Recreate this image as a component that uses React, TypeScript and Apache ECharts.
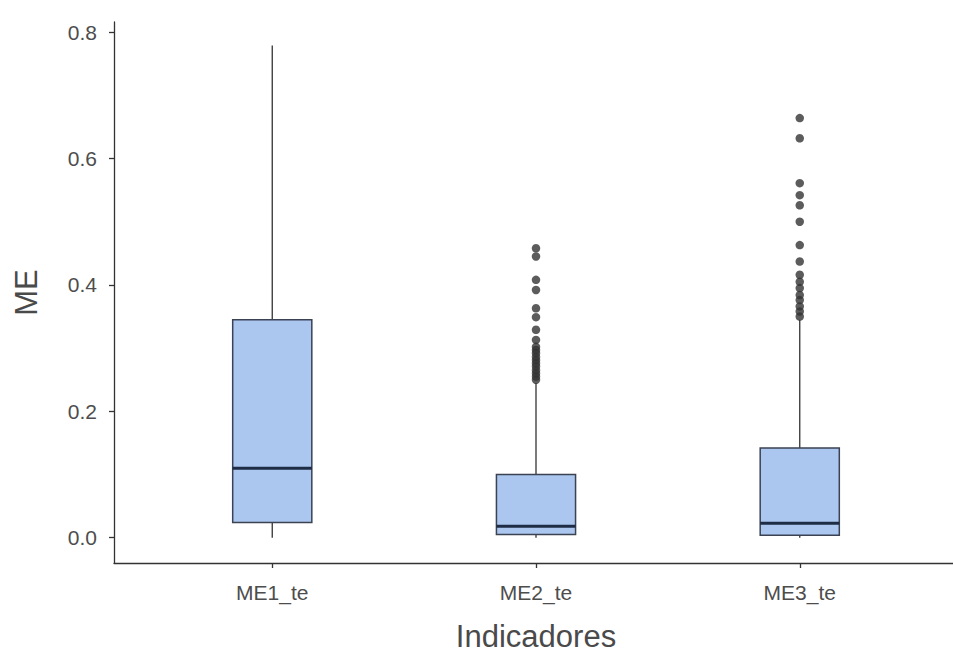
import React, { useEffect, useRef } from "react";
import * as echarts from "echarts";

const categories = ["ME1_te", "ME2_te", "ME3_te"];
const categoryPositions = [1, 2, 3];
const lowerWhisker = [0.0, 0.0, 0.0];
const q1 = [0.024, 0.005, 0.004];
const median = [0.11, 0.018, 0.023];
const q3 = [0.345, 0.1, 0.142];
const upperWhisker = [0.779, 0.245, 0.345];
const outliersME2 = [
  0.458, 0.445, 0.408, 0.392, 0.363, 0.349, 0.329, 0.313, 0.302, 0.297, 0.292,
  0.286, 0.281, 0.276, 0.271, 0.265, 0.26, 0.255, 0.25,
];
const outliersME3 = [
  0.664, 0.632, 0.561, 0.542, 0.526, 0.5, 0.463, 0.437, 0.416, 0.405, 0.395,
  0.384, 0.376, 0.366, 0.358, 0.35,
];
const yTicks = [0, 0.2, 0.4, 0.6, 0.8];

export default function App() {
  const ref = useRef<HTMLDivElement>(null);
  useEffect(() => {
    if (!ref.current) return;
    const chart = echarts.init(ref.current, null, { renderer: "svg" });
    const boxData = categoryPositions.map((x, i) => [
      x,
      lowerWhisker[i],
      q1[i],
      median[i],
      q3[i],
      upperWhisker[i],
    ]);
    const outlierData = [
      ...outliersME2.map((v) => [2, v]),
      ...outliersME3.map((v) => [3, v]),
    ];
    const font = "'Liberation Sans', Arial, sans-serif";
    const halfW = 0.15;
    chart.setOption({
      animation: false,
      backgroundColor: "#ffffff",
      grid: { left: 114, right: -5, top: 22, bottom: 90, outerBoundsMode: "none", containLabel: false },
      xAxis: {
        type: "value",
        min: 0.4,
        max: 3.6,
        name: "Indicadores",
        nameLocation: "middle",
        nameGap: 58,
        nameTextStyle: { fontFamily: font, fontSize: 31, color: "#4a4a4a" },
        axisLine: { show: true, onZero: false, lineStyle: { color: "#333333", width: 1.3 } },
        axisTick: { show: true, length: 5, customValues: categoryPositions, lineStyle: { color: "#333333", width: 1.3 } },
        axisLabel: {
          customValues: categoryPositions,
          formatter: (v: number) => categories[Math.round(v) - 1] ?? "",
          fontFamily: font,
          fontSize: 21,
          color: "#4d4d4d",
          margin: 19,
        },
        splitLine: { show: false },
      },
      yAxis: {
        type: "value",
        min: -0.04,
        max: 0.816,
        name: "ME",
        nameLocation: "middle",
        nameRotate: 90,
        nameGap: 72,
        nameTextStyle: { fontFamily: font, fontSize: 31, color: "#4a4a4a" },
        axisLine: { show: true, onZero: false, lineStyle: { color: "#333333", width: 1.3 } },
        axisTick: { show: true, length: 5, customValues: yTicks, lineStyle: { color: "#333333", width: 1.3 } },
        axisLabel: {
          customValues: yTicks,
          formatter: (v: number) => v.toFixed(1),
          fontFamily: font,
          fontSize: 21,
          color: "#4d4d4d",
          margin: 17,
        },
        splitLine: { show: false },
      },
      series: [
        {
          type: "custom",
          data: boxData,
          encode: { x: 0, y: [1, 2, 3, 4, 5] },
          renderItem: (params: any, api: any) => {
            const x = api.value(0);
            const lo = api.value(1);
            const a = api.value(2);
            const m = api.value(3);
            const b = api.value(4);
            const hi = api.value(5);
            const pLo = api.coord([x, lo]);
            const pA = api.coord([x, a]);
            const pB = api.coord([x, b]);
            const pHi = api.coord([x, hi]);
            const pTL = api.coord([x - halfW, b]);
            const pBR = api.coord([x + halfW, a]);
            const pML = api.coord([x - halfW, m]);
            const pMR = api.coord([x + halfW, m]);
            const lineStyle = { stroke: "#333333", lineWidth: 1.3 };
            return {
              type: "group",
              children: [
                { type: "line", shape: { x1: pB[0], y1: pB[1], x2: pHi[0], y2: pHi[1] }, style: lineStyle },
                { type: "line", shape: { x1: pA[0], y1: pA[1], x2: pLo[0], y2: pLo[1] }, style: lineStyle },
                {
                  type: "rect",
                  shape: { x: pTL[0], y: pTL[1], width: pBR[0] - pTL[0], height: pBR[1] - pTL[1] },
                  style: { fill: "#abc7f0", stroke: "#3b4252", lineWidth: 1.5 },
                },
                {
                  type: "line",
                  shape: { x1: pML[0], y1: pML[1], x2: pMR[0], y2: pMR[1] },
                  style: { stroke: "#1f2c45", lineWidth: 3 },
                },
              ],
            };
          },
        },
        {
          type: "scatter",
          data: outlierData,
          symbol: "circle",
          symbolSize: 8.5,
          itemStyle: { color: "#333333" },
        },
      ],
    });
    return () => chart.dispose();
  }, []);
  return (
    <div
      ref={ref}
      style={{ position: "fixed", left: 0, top: 0, width: 953, height: 653 }}
    />
  );
}
